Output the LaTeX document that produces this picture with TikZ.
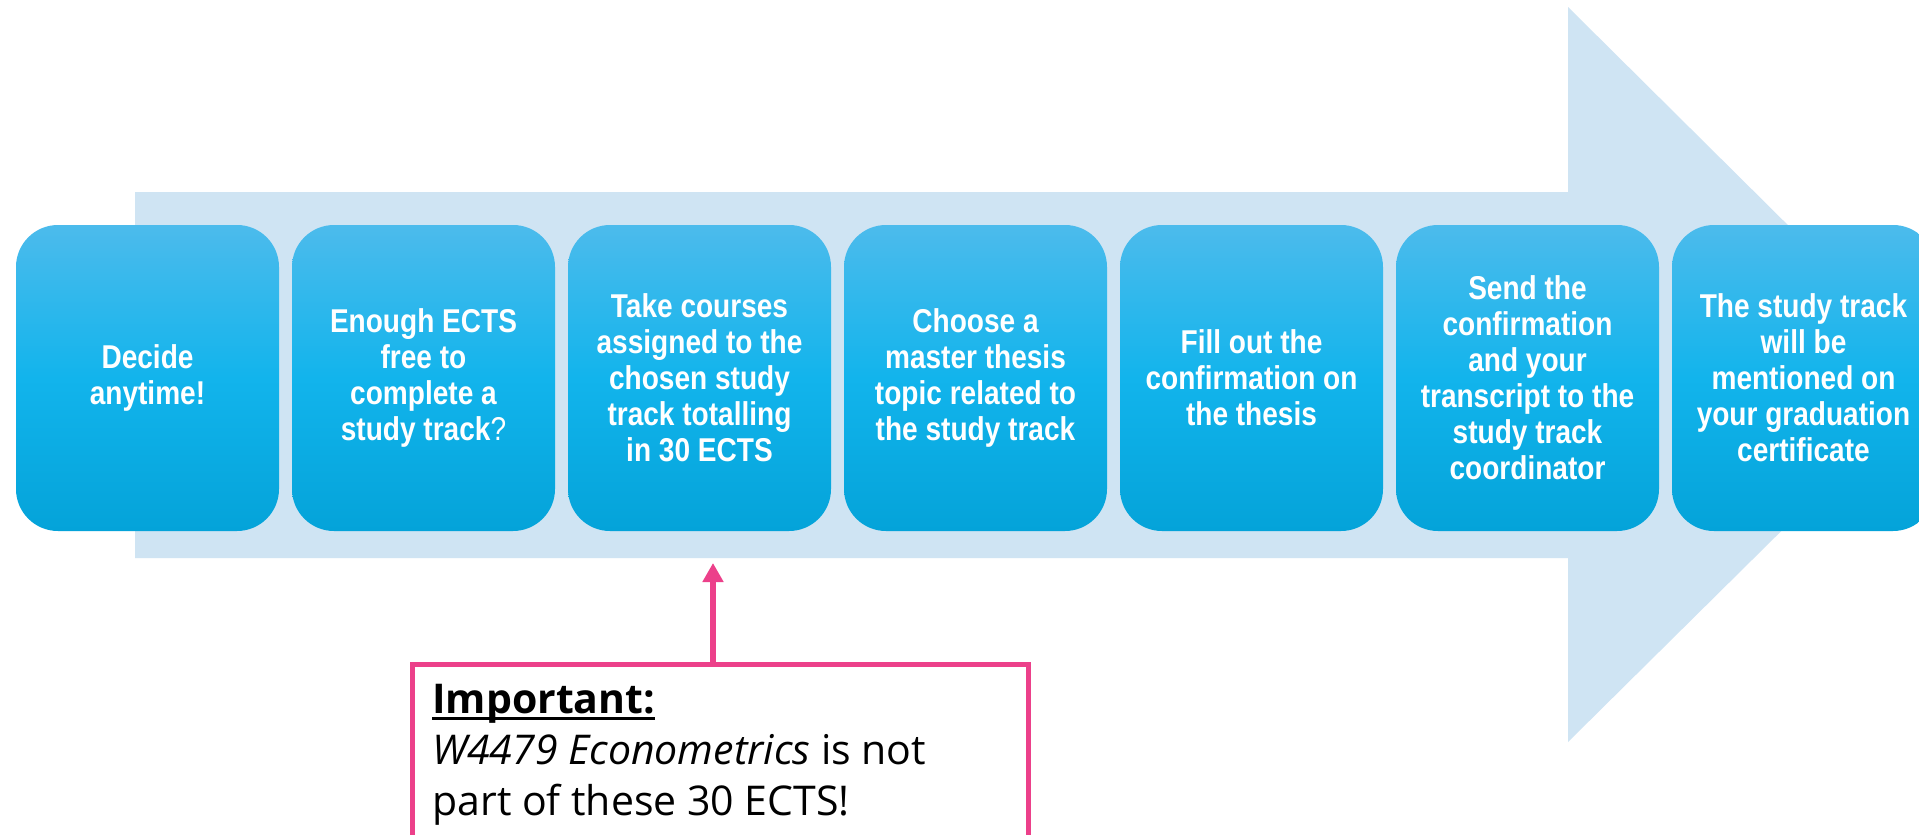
\documentclass[tikz,border=0pt]{standalone}
\usepackage{fontspec}
\setmainfont{Liberation Sans}
\newfontfamily\boxfont{Liberation Sans Bold}[FakeStretch=0.85]
\newfontfamily\boxreg{Liberation Sans}[FakeStretch=0.85]
\newfontfamily\callfont{Open Sans}
\usetikzlibrary{arrows.meta}
\definecolor{boxtop}{RGB}{76,187,236}
\definecolor{boxmid}{RGB}{18,180,236}
\definecolor{boxbot}{RGB}{4,163,217}
\definecolor{arrowbg}{RGB}{207,228,243}
\definecolor{notepink}{RGB}{236,64,138}
\newcommand{\thickul}[1]{\leavevmode\setbox0\hbox{#1}\rlap{\rule[-3.2pt]{\wd0}{1.3pt}}\box0}
\tikzset{
  stepbox/.style={rectangle, rounded corners=21pt, minimum width=131.5pt, minimum height=153pt,
    inner sep=0pt, top color=boxtop, bottom color=boxbot, middle color=boxmid,
    text=white, align=center, font=\boxfont\fontsize{16.5}{18}\selectfont},
  notebox/.style={rectangle, draw=notepink, line width=2.5pt, inner sep=0pt},
  notetext/.style={inner sep=0pt, align=left, text=black, font=\callfont\fontsize{20.5}{25.5}\selectfont},
  notearrow/.style={draw=notepink, line width=3pt, -{Triangle[width=10pt,length=9.5pt]}}
}
\begin{document}
\begin{tikzpicture}[x=0.5pt,y=-0.5pt]
\clip (0,0) rectangle (1919,835);
\fill[white] (0,0) rectangle (1919,835);
% big background arrow
\fill[arrowbg] (135,192) -- (1568,192) -- (1568,7) -- (1939,375) -- (1568,742) -- (1568,558) -- (135,558) -- cycle;
% steps
\node[stepbox] (s1) at (147.5,378) {Decide\\anytime!};
\node[stepbox] (s2) at (423.5,378) {Enough ECTS\\free to\\complete a\\study track{\boxreg ?}};
\node[stepbox] (s3) at (699.5,378) {Take courses\\assigned to the\\chosen study\\track totalling\\in 30 ECTS};
\node[stepbox] (s4) at (975.5,378) {Choose a\\master thesis\\topic related to\\the study track};
\node[stepbox] (s5) at (1251.5,378) {Fill out the\\confirmation on\\the thesis};
\node[stepbox] (s6) at (1527.5,378) {Send the\\confirmation\\and your\\transcript to the\\study track\\coordinator};
\node[stepbox] (s7) at (1803.5,378) {The study track\\will be\\mentioned on\\your graduation\\certificate};
% note
\node[notebox, anchor=north west, minimum width=308pt, minimum height=88pt] (note) at (410,662) {};
\node[notetext, anchor=north west] (notetxt) at (432,684) {\thickul{\textbf{Important:}}\\\textit{W4479 Econometrics} is not\\part of these 30 ECTS!};
\coordinate (tip) at (713,563);
\draw[notearrow] (note.north -| tip) -- (tip);
\end{tikzpicture}
\end{document}
